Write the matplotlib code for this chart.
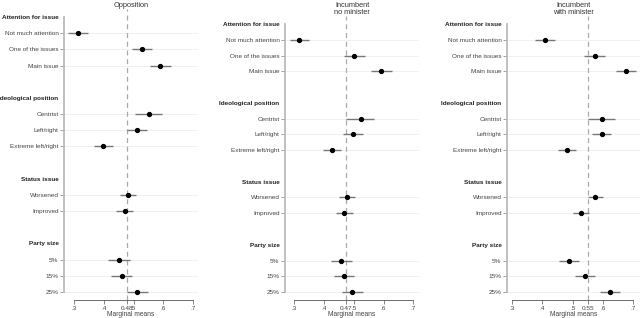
import numpy as np
import matplotlib.pyplot as plt

plt.rcParams['font.family'] = ['Liberation Sans', 'DejaVu Sans']

W, H = 640, 318

row_labels = ["Attention for issue", "Not much attention", "One of the issues", "Main issue", "",
              "Ideological position", "Centrist", "Left/right", "Extreme left/right", "",
              "Status issue", "Worsened", "Improved", "",
              "Party size", "5%", "15%", "25%"]
header_rows = [0, 5, 10, 14]
item_rows = [1, 2, 3, 6, 7, 8, 11, 12, 15, 16, 17]

titles = ["Opposition", "Incumbent\nno minister", "Incumbent\nwith minister"]
ref_values = [0.477, 0.474, 0.55]
ref_labels = ["0.48", "0.47", "0.55"]

opp_mean = [0.312, 0.528, 0.590, 0.551, 0.513, 0.398, 0.480, 0.470, 0.452, 0.461, 0.513]
opp_lo = [0.280, 0.494, 0.556, 0.505, 0.477, 0.368, 0.454, 0.441, 0.415, 0.425, 0.477]
opp_hi = [0.345, 0.562, 0.626, 0.597, 0.545, 0.431, 0.509, 0.498, 0.489, 0.496, 0.548]

nomin_mean = [0.317, 0.502, 0.591, 0.523, 0.497, 0.427, 0.477, 0.468, 0.458, 0.468, 0.495]
nomin_lo = [0.286, 0.467, 0.559, 0.474, 0.465, 0.395, 0.451, 0.440, 0.422, 0.433, 0.461]
nomin_hi = [0.350, 0.537, 0.627, 0.568, 0.530, 0.458, 0.505, 0.497, 0.493, 0.502, 0.530]

min_mean = [0.407, 0.572, 0.676, 0.596, 0.596, 0.480, 0.572, 0.528, 0.488, 0.542, 0.622]
min_lo = [0.374, 0.538, 0.643, 0.552, 0.565, 0.451, 0.549, 0.501, 0.454, 0.508, 0.590]
min_hi = [0.440, 0.606, 0.709, 0.640, 0.627, 0.510, 0.600, 0.555, 0.522, 0.575, 0.655]

means = [opp_mean, nomin_mean, min_mean]
los = [opp_lo, nomin_lo, min_lo]
his = [opp_hi, nomin_hi, min_hi]

xticks = [0.3, 0.4, 0.5, 0.6, 0.7]
xtick_labels = [".3", ".4", ".5", ".6", ".7"]

fig = plt.figure(figsize=(W / 100, H / 100), dpi=100)

# pixel boxes: left, right, top (from top of image)
boxes = [(64, 198, 8.9, (0.265, 0.718)),
         (285, 419, 16.1, (0.269, 0.719)),
         (507, 640, 16.1, (0.283, 0.722))]
bottom_px = 300

for i, (l, r, t, xl) in enumerate(boxes):
    ax = fig.add_axes([l / W, (H - bottom_px) / H, (r - l) / W, (bottom_px - t) / H])
    ax.set_xlim(*xl)
    ax.set_ylim(17.5, -0.5)

    ax.hlines(item_rows, xl[0], xl[1], color='#f0f0f0', lw=0.7, zorder=0)
    ax.axvline(ref_values[i], color='#aaaaaa', ls=(0, (4, 3)), lw=0.9, zorder=1)
    ax.hlines(item_rows, los[i], his[i], color='#777777', lw=1.0, zorder=2)
    ax.plot(means[i], item_rows, 'o', color='black', ms=2.8, zorder=3)

    rows = header_rows + item_rows
    ax.set_yticks(rows)
    ax.set_yticklabels([row_labels[k] for k in rows])
    ax.tick_params(axis='y', length=3, width=0.5, color='#777777', pad=1,
                   labelsize=4.6, labelcolor='#444444')
    for k, lab in enumerate(ax.get_yticklabels()):
        if rows[k] in header_rows:
            lab.set_fontweight('bold')
            lab.set_color('#222222')
            ax.yaxis.get_major_ticks()[k].tick1line.set_visible(False)

    ax.set_xticks(xticks + [ref_values[i]])
    ax.set_xticklabels(xtick_labels + [ref_labels[i]])
    ax.tick_params(axis='x', length=3, width=0.5, color='#555555', pad=1,
                   labelsize=4.6, labelcolor='#444444')
    ax.set_xlabel("Marginal means", fontsize=4.8, color='#444444', labelpad=0.5)

    for s in ['top', 'right']:
        ax.spines[s].set_visible(False)
    ax.spines['left'].set_color('#bbbbbb')
    ax.spines['left'].set_linewidth(1.3)
    ax.spines['left'].set_bounds(0, 17)
    ax.spines['bottom'].set_color('#555555')
    ax.spines['bottom'].set_linewidth(0.6)
    ax.spines['bottom'].set_bounds(0.3, 0.7)

    ax.set_title(titles[i], fontsize=5.3, color='#333333', pad=1, linespacing=1.0)

fig.savefig("out.png", dpi=100)
